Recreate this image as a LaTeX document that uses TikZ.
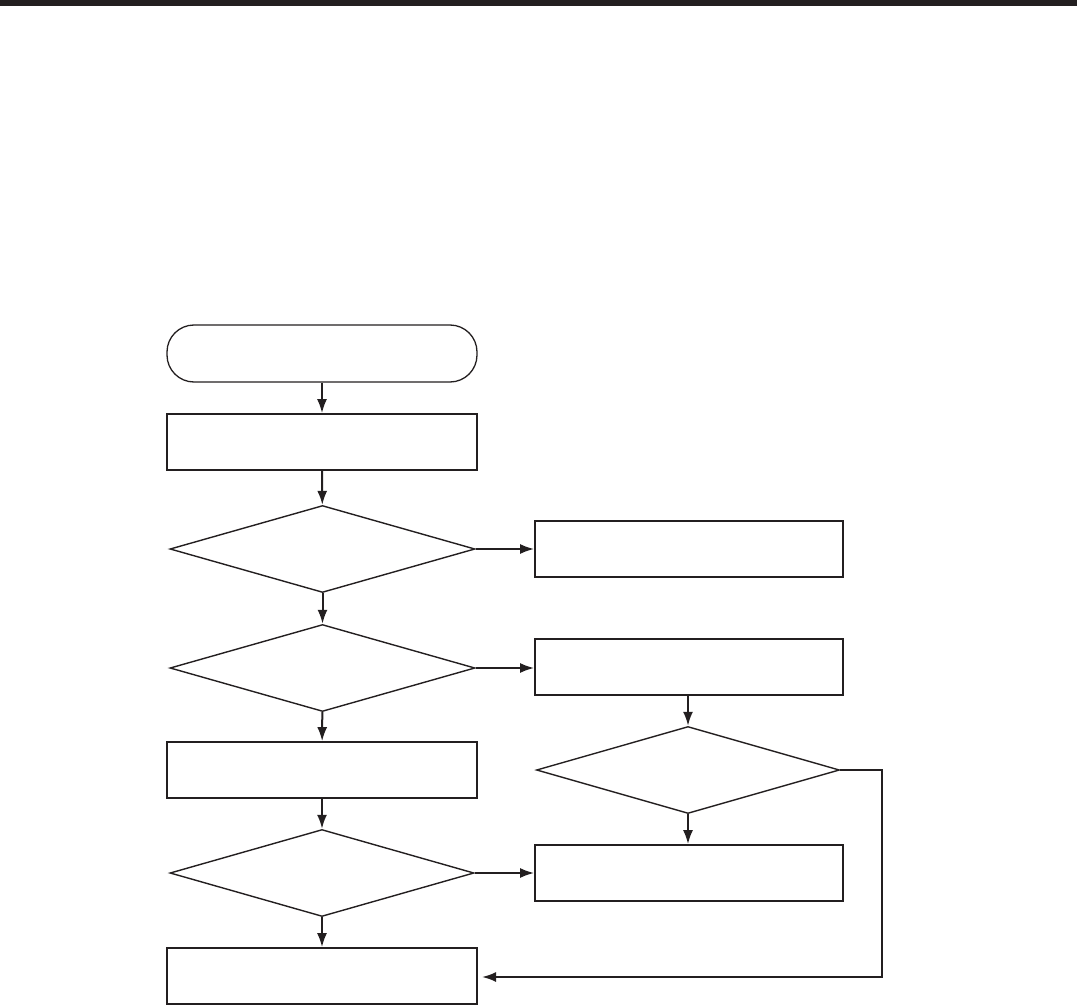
\documentclass[tikz,border=0pt]{standalone}
\usetikzlibrary{shapes.geometric,arrows.meta}
\definecolor{ink}{HTML}{231F20}
\begin{document}
\begin{tikzpicture}[x=1pt,y=-1pt,
  every node/.style={draw=ink,line width=1.7pt,inner sep=0pt,anchor=center},
  procbox/.style={rectangle,minimum width=310pt,minimum height=56pt},
  rbox/.style={rectangle,minimum width=308pt,minimum height=56pt},
  termbox/.style={rectangle,rounded corners=27pt,minimum width=310pt,minimum height=57pt,line width=1.3pt},
  decision/.style={diamond,minimum width=305pt,minimum height=87pt,line width=1.4pt},
  flow/.style={draw=ink,line width=2pt,-{Latex[length=14pt,width=10pt]}},
  plainline/.style={draw=ink,line width=2pt}]
\useasboundingbox (0,0) rectangle (1077,1006);
\fill[ink] (0,0) rectangle (1077,6);
\node[termbox] (term) at (322,353.5) {};
\node[procbox] (b1) at (322,442) {};
\node[decision] (d1) at (322.5,549) {};
\node[rbox] (r1) at (689,549) {};
\node[decision] (d2) at (322.5,668) {};
\node[rbox] (r2) at (689,667) {};
\node[decision,minimum width=303pt] (d3) at (688,770) {};
\node[procbox] (b3) at (322,770) {};
\node[decision,minimum width=304pt] (d4) at (322,873) {};
\node[rbox] (r3) at (689,873) {};
\node[procbox] (b5) at (322,976) {};
\coordinate (lc) at (882,977);
\coordinate (lend) at (482,977);
\draw[flow] (term) -- (b1);
\draw[flow] (b1) -- (d1);
\draw[flow] (d1.east) -- (r1.west);
\draw[flow] (d1) -- (d2);
\draw[flow] (d2.east) -- (d2.east -| r2.west);
\draw[flow] (r2.south -| d3.north) -- (d3.north);
\draw[flow] (d2) -- (b3);
\draw[flow] (b3) -- (d4);
\draw[flow] (d4.east) -- (r3.west);
\draw[flow] (d3.south) -- (r3.north -| d3.south);
\draw[flow] (d4) -- (b5);
\draw[flow] (d3.east) -| (lc) -- (lend);
\end{tikzpicture}
\end{document}
